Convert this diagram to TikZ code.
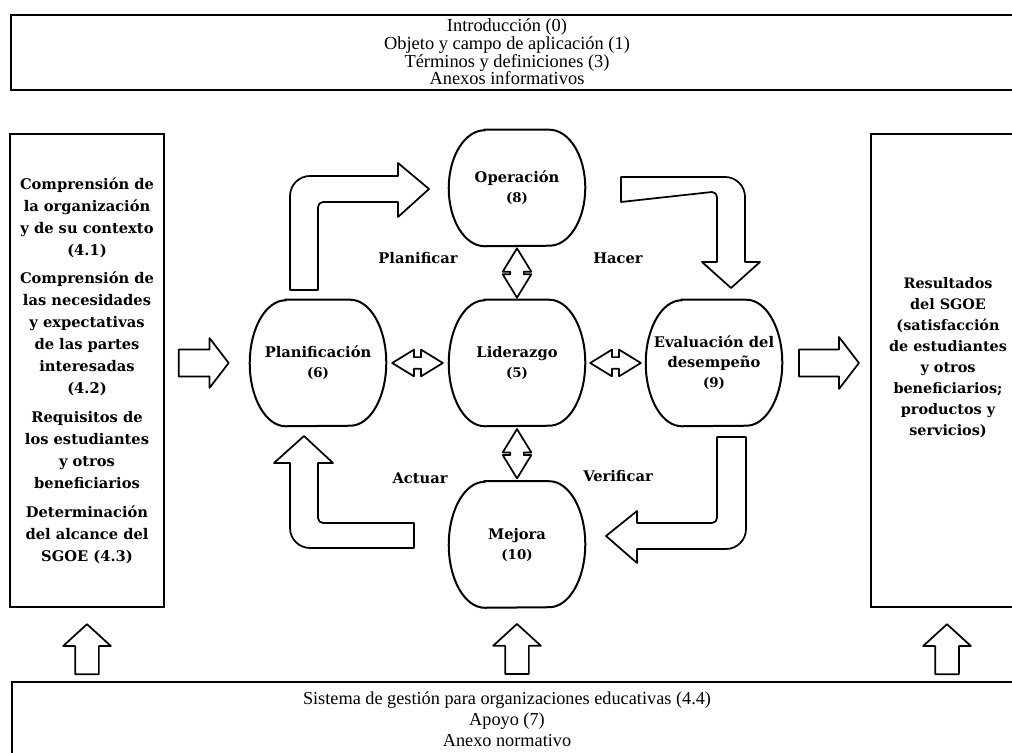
\documentclass[tikz,border=0pt]{standalone}
\usepackage{fontspec}
\setmainfont{DejaVu Serif}
\newfontfamily\normafont{Liberation Serif}
\usetikzlibrary{shapes}
\usetikzlibrary{shapes.arrows}
\usetikzlibrary{calc}
\tikzset{
	clausenode/.style = {
		align=center,
		inner sep=0pt,
		text centered,
		font=\bfseries\fontsize{11}{16.5}\selectfont
	},
	node_frame/.style = {
		rectangle,
		draw=black,
		line width=1.5pt,
		inner sep=0pt,
		minimum width=115.5pt,
		minimum height=354.75pt
	},
	node_side/.style = {
		node_frame,
		clausenode
	},
	node_wide/.style = {
		node_frame,
		minimum width=764pt
	},
	node_norma/.style = {
		align=center,
		inner sep=0pt,
		font=\normafont\fontsize{13.8}{13.2}\selectfont
	},
	node_blob/.style = {
		clausenode,
		font=\bfseries\fontsize{11}{15}\selectfont,
		minimum width=102pt,
		minimum height=94.5pt
	},
	node_blob_low/.style = {
		node_blob,
		minimum height=87pt
	},
	node_pdca/.style = {
		clausenode,
		font=\bfseries\fontsize{11}{13}\selectfont
	},
	blob_line/.style = {
		draw=black,
		line width=1.5pt
	},
	arrow_single/.style = {
		single arrow,
		draw=black,
		fill=white,
		line width=1.3pt,
		line join=round,
		inner sep=9.4pt,
		anchor=tip,
		single arrow head extend=8.6pt,
		single arrow tip angle=105
	},
	arrow_up/.style = {
		arrow_single,
		shape border rotate=90,
		minimum height=37.5pt,
		inner sep=8.25pt,
		single arrow head extend=9pt,
		single arrow tip angle=95
	},
	arrow_double/.style = {
		double arrow,
		draw=black,
		fill=white,
		line width=1.3pt,
		line join=round,
		inner sep=4.5pt,
		minimum height=37pt,
		double arrow head extend=5.6pt,
		double arrow tip angle=63
	},
	arrow_bent/.style = {
		draw=black,
		fill=white,
		line width=1.3pt,
		line join=round
	}
}
\newcommand{\num}[1]{{\fontsize{10}{12}\selectfont #1}}

\begin{document}
\begin{tikzpicture}[x=0.75pt, y=0.75pt]
\useasboundingbox (0,0) rectangle (1012,752);
\clip (0,0) rectangle (1012,752);

% marco superior e inferior
\node [node_wide, minimum height=56.25pt] (topbox) at (520.5,699.5) {};
\node [node_norma] (intro) at (507,700) {Introducción (0)\\Objeto y campo de aplicación (1)\\Términos y definiciones (3)\\Anexos informativos};
\node [node_wide, minimum height=66pt] (sysbox) at (521,26) {};
\node [node_norma, font=\normafont\fontsize{13.7}{15.75}\selectfont] (sys) at (507,33) {Sistema de gestión para organizaciones educativas (4.4)\\Apoyo (7)\\Anexo normativo};

% entradas y salidas
\node [node_side] (leftbox) at (87,381.5) {Comprensión de\\la organización\\y de su contexto\\(4.1)\\[5pt]
	Comprensión de\\las necesidades\\y expectativas\\de las partes\\interesadas\\(4.2)\\[5pt]
	Requisitos de\\los estudiantes\\y otros\\beneficiarios\\[5pt]
	Determinación\\del alcance del\\SGOE (4.3)};
\node [node_frame, minimum width=114pt] (resbox) at (947,381.5) {};
\node [clausenode, font=\bfseries\fontsize{10.8}{15.75}\selectfont] (res) at (948,394) {Resultados\\del SGOE\\(satisfacción\\de estudiantes\\y otros\\beneficiarios;\\productos y\\servicios)};

% ciclo
\node [node_blob_low] (oper) at (517,564) {Operación\\\num{(8)}};
\node [node_blob] (lider) at (517,389) {Liderazgo\\\num{(5)}};
\node [node_blob] (plan) at (318,389) {Planificación\\\num{(6)}};
\node [node_blob] (eval) at (714,389) {Evaluación del\\desempeño\\\num{(9)}};
\node [node_blob] (mejora) at (517,207.5) {Mejora\\\num{(10)}};

\foreach \n/\b in {oper/43.5, lider/47.25, plan/47.25, eval/47.25, mejora/47.25}
	\draw [blob_line] ($(\n.north west)+(27pt,0)$) -- ($(\n.north east)+(-27pt,0)$)
		arc [start angle=90, end angle=0, x radius=27pt, y radius=\b*1pt]
		arc [start angle=0, end angle=-90, x radius=27pt, y radius=\b*1pt]
		-- ($(\n.south west)+(27pt,0)$)
		arc [start angle=270, end angle=180, x radius=27pt, y radius=\b*1pt]
		arc [start angle=180, end angle=90, x radius=27pt, y radius=\b*1pt] -- cycle;

\node [node_pdca] (planificar) at (418,494) {Planificar};
\node [node_pdca] (hacer) at (618,494) {Hacer};
\node [node_pdca] (actuar) at (420,274) {Actuar};
\node [node_pdca] (verificar) at (618,276) {Verificar};

% flechas rectas
\node [arrow_single, minimum height=37.5pt] (a_in) at ($(plan.west)+(-15pt,0)$) {};
\node [arrow_single, minimum height=45pt, single arrow head extend=9.4pt] (a_out) at ($(resbox.west |- eval.east)+(-7.5pt,0)$) {};
\node [arrow_up] (up_left) at ($(leftbox.south)+(0,-11.25pt)$) {};
\node [arrow_up] (up_mid) at ($(mejora.south)+(0,-11.25pt)$) {};
\node [arrow_up] (up_right) at ($(resbox.south)+(0,-11.25pt)$) {};

\node [arrow_double, shape border rotate=90] (d_top) at ($(oper.south)!0.5!(lider.north)$) {};
\node [arrow_double, shape border rotate=90] (d_bot) at ($(lider.south)!0.5!(mejora.north)$) {};
\node [arrow_double, minimum height=38pt, inner sep=3.75pt] (d_left) at ($(plan.east)!0.5!(lider.west)$) {};
\node [arrow_double, minimum height=38pt, inner sep=3.75pt] (d_right) at ($(lider.east)!0.5!(eval.west)$) {};

% flechas dobladas
\draw [arrow_bent] (290,462) -- (290,556) arc [start angle=180, end angle=90, radius=20]
	-- (398,576) -- (398,589) -- (429,563) -- (398,535) -- (398,550) -- (323,550)
	arc [start angle=90, end angle=180, radius=5] -- (318,462) -- cycle;
\draw [arrow_bent] (621,575) -- (725,575) arc [start angle=90, end angle=0, radius=20]
	-- (745,490) -- (760,490) -- (731,464) -- (702,490) -- (717,490) -- (717,555)
	arc [start angle=0, end angle=90, radius=5] -- (621,550) -- cycle;
\draw [arrow_bent] (414,204) -- (310,204) arc [start angle=270, end angle=180, radius=20]
	-- (290,289) -- (274,289) -- (304,316) -- (333,289) -- (318,289) -- (318,234)
	arc [start angle=180, end angle=270, radius=5] -- (414,229) -- cycle;
\draw [arrow_bent] (717,315) -- (746,315) -- (746,223) arc [start angle=0, end angle=-90, radius=20]
	-- (637,203) -- (637,189) -- (606,216) -- (637,241) -- (637,229) -- (712,229)
	arc [start angle=270, end angle=360, radius=5] -- cycle;
\end{tikzpicture}
\end{document}
